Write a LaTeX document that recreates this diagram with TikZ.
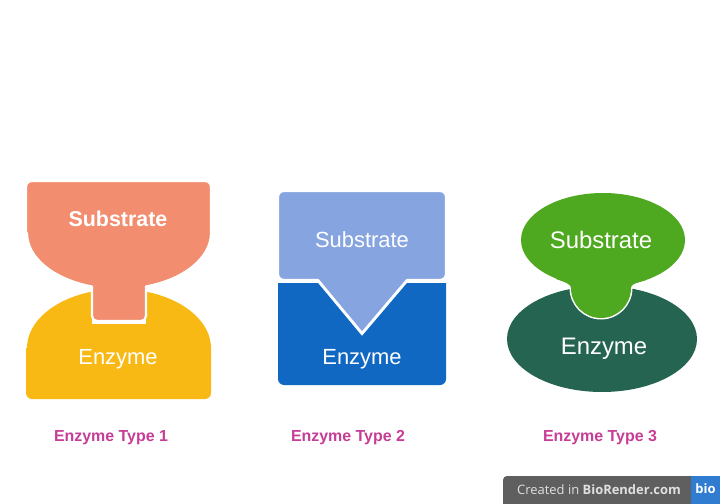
\documentclass[tikz,border=0pt]{standalone}
\usepackage{fontspec}
\setmainfont{Liberation Sans}
\newfontfamily\badgefont{Open Sans}
\usepackage{tikz}
\usetikzlibrary{positioning}
\definecolor{Salmon}{HTML}{F28E6F}
\definecolor{Amber}{HTML}{F9B914}
\definecolor{SkyBlue}{HTML}{86A4DF}
\definecolor{DeepBlue}{HTML}{1168C2}
\definecolor{Leaf}{HTML}{4EA820}
\definecolor{Pine}{HTML}{256450}
\definecolor{Magenta}{HTML}{C63D96}
\definecolor{BadgeGray}{HTML}{5F5F5F}
\definecolor{BadgeBlue}{HTML}{2F7CD0}
\tikzset{substrate/.style={draw=white,line width=2.2bp,line join=round},gap/.style={draw=white,line width=3bp},label/.style={text=white,font=\fontsize{22}{25}\selectfont},biglabel/.style={text=white,font=\fontsize{24}{27}\selectfont},caption/.style={text=Magenta,font=\fontsize{16}{19}\selectfont\bfseries}}

\begin{document}
\begin{tikzpicture}[x=1bp,y=-1bp]
      \useasboundingbox (0,0) rectangle (720,504);
      % type 1
      \fill[Amber](26,348)[rounded corners=6bp] -- (26,399) -- (211,399)[sharp corners] -- (211,348) arc[start angle=0,end angle=-72.7,x radius=92.5,y radius=59] -- (146,324) -- (92,324) -- (92,291.6) arc[start angle=-107.3,end angle=-180,x radius=92.5,y radius=59] -- cycle;
      \filldraw[substrate,fill=Salmon](26,233)[rounded corners=6bp] -- (26,181) -- (211,181)[sharp corners] -- (211,233) arc[start angle=0,end angle=72.7,x radius=92.5,y radius=56] -- (146,300)[rounded corners=5bp] -- (146,321) -- (92,321)[sharp corners] -- (92,300) -- (92,286.5) arc[start angle=107.3,end angle=180,x radius=92.5,y radius=56] -- cycle;
      \node[label,font=\fontsize{21.5}{24}\selectfont\bfseries](sub1) at (118,219){Substrate};
      \node[label](enz1) at (118,359){Enzyme};
      % type 2
      \fill[DeepBlue](278,283)[rounded corners=6bp] -- (278,385) -- (446,385)[sharp corners] -- (446,283) -- (407,283) -- (362,336) -- (318,283) -- cycle;
      \filldraw[substrate,fill=SkyBlue](278,240)[rounded corners=6bp] -- (278,191) -- (446,191) -- (446,280)[sharp corners] -- (407,280) -- (362,333) -- (318,280)[rounded corners=6bp] -- (278,280)[sharp corners] -- cycle;
      \node[label](sub2) at (362,240){Substrate};
      \node[label](enz2) at (362,359){Enzyme};
      % type 3
      \fill[Pine](602,339) ellipse[x radius=95,y radius=53];
      \draw[gap](603,240) ellipse[x radius=82,y radius=47];
      \draw[gap](556,279) .. controls (568,283) and (571,285) .. (571,288) arc[start angle=180,end angle=0,radius=30] .. controls (631,285) and (634,283) .. (646,280);
      \fill[Leaf](603,240) ellipse[x radius=82,y radius=47];
      \fill[Leaf](556,279) .. controls (568,283) and (571,285) .. (571,288) arc[start angle=180,end angle=0,radius=30] .. controls (631,285) and (634,283) .. (646,280) -- (601,260) -- cycle;
      \node[biglabel](sub3) at (601,240){Substrate};
      \node[biglabel](enz3) at (604,349){Enzyme};
      % captions
      \node[caption](type1) at (111,438){Enzyme Type 1};
      \node[caption](type2) at (348,438){Enzyme Type 2};
      \node[caption](type3) at (600,438){Enzyme Type 3};
      % badge
      \fill[BadgeGray](503,504)[rounded corners=4bp] -- (503,476) -- (720,476)[sharp corners] -- (720,504) -- cycle;
      \fill[BadgeBlue](691,476) rectangle (720,504);
      \node[text=white!88!black,font=\badgefont\fontsize{13}{15}\selectfont](made) at (599,490){Created in \textbf{BioRender.com}};
      \node[text=white,font=\badgefont\fontsize{13}{15}\selectfont\bfseries](bio) at (705.5,489){bio};
\end{tikzpicture}
\end{document}
